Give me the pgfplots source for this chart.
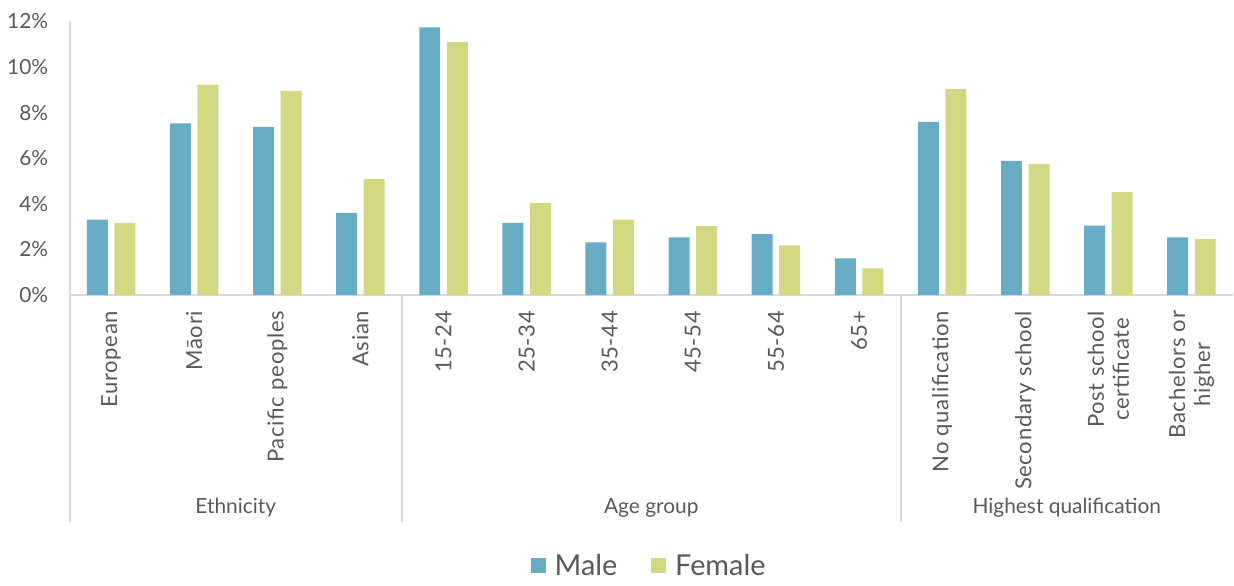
\documentclass[border=0pt]{standalone}
\usepackage{pgfplots}
\pgfplotsset{compat=1.18}
\usepackage{fontspec}
\setmainfont{Lato}

\definecolor{male}{RGB}{104,171,196}
\definecolor{female}{RGB}{212,215,130}
\definecolor{txt}{RGB}{89,89,89}
\definecolor{axgray}{RGB}{217,217,217}

% unemployment rate by group, male / female
\pgfplotstableread{
x male female
0  3.31 3.17
1  7.53 9.23
2  7.38 8.96
3  3.60 5.09
4  11.74 11.10
5  3.17 4.03
6  2.31 3.31
7  2.53 3.02
8  2.67 2.18
9  1.61 1.17
10 7.60 9.03
11 5.89 5.75
12 3.05 4.52
13 2.53 2.45
}\rates

\begin{document}
\begin{tikzpicture}
\begin{axis}[
    scale only axis,
    width=583bp, height=137.1bp,
    ybar=3.3bp, bar width=10.5bp,
    xmin=-0.5, xmax=13.5,
    ymin=0, ymax=12,
    axis x line=bottom, axis y line=left,
    axis line style={axgray, line width=1bp, -},
    xtick=data,
    xticklabels={European, M\=aori, Pacific peoples, Asian, 15-24, 25-34, 35-44, 45-54, 55-64, 65+, No qualification, Secondary school, {Post school\\certificate}, {Bachelors or\\higher}},
    x tick label style={yshift=-7.75bp, rotate=90, anchor=east, align=center, inner sep=0pt,
        font=\fontsize{11.1}{12.5}\selectfont\addfontfeatures{LetterSpace=3}, text=txt},
    ytick={0,2,...,12},
    yticklabels={0\%,2\%,4\%,6\%,8\%,10\%,12\%},
    y tick label style={anchor=east, inner sep=0pt, xshift=-10.5bp, font=\fontsize{10.5}{12}\selectfont, text=txt},
    major tick length=0pt,
    tick style={draw=none},
    clip=false,
    legend style={at={(0.499,-0.99)}, anchor=center, draw=none, fill=none,
        legend columns=2, font=\fontsize{14.5}{16}\selectfont, text=txt,
        /tikz/every odd column/.append style={column sep=2.5bp},
        /tikz/every even column/.append style={column sep=15bp}},
    legend image code/.code={\fill[#1] (0bp,-3.75bp) rectangle (7.5bp,3.75bp);},
]
\addplot[fill=male, draw=none] table[x=x, y=male] {\rates};
\addplot[fill=female, draw=none] table[x=x, y=female] {\rates};
\legend{Male, Female}

% group separators and group names
\draw[axgray, line width=1bp] (rel axis cs:0,0) -- (rel axis cs:0,-0.829);
\draw[axgray, line width=1bp] (rel axis cs:0.285714,0) -- (rel axis cs:0.285714,-0.829);
\draw[axgray, line width=1bp] (rel axis cs:0.714286,0) -- (rel axis cs:0.714286,-0.829);
\node[text=txt, font=\fontsize{10.5}{12}\selectfont] at (rel axis cs:0.142857,-0.778) {Ethnicity};
\node[text=txt, font=\fontsize{10.5}{12}\selectfont] at (rel axis cs:0.5,-0.778) {Age group};
\node[text=txt, font=\fontsize{10.5}{12}\selectfont] at (rel axis cs:0.857143,-0.778) {Highest qualification};
\end{axis}
\path[use as bounding box] (-34.85bp,-141.15bp) rectangle (582.15bp,147.85bp);
\end{tikzpicture}
\end{document}
